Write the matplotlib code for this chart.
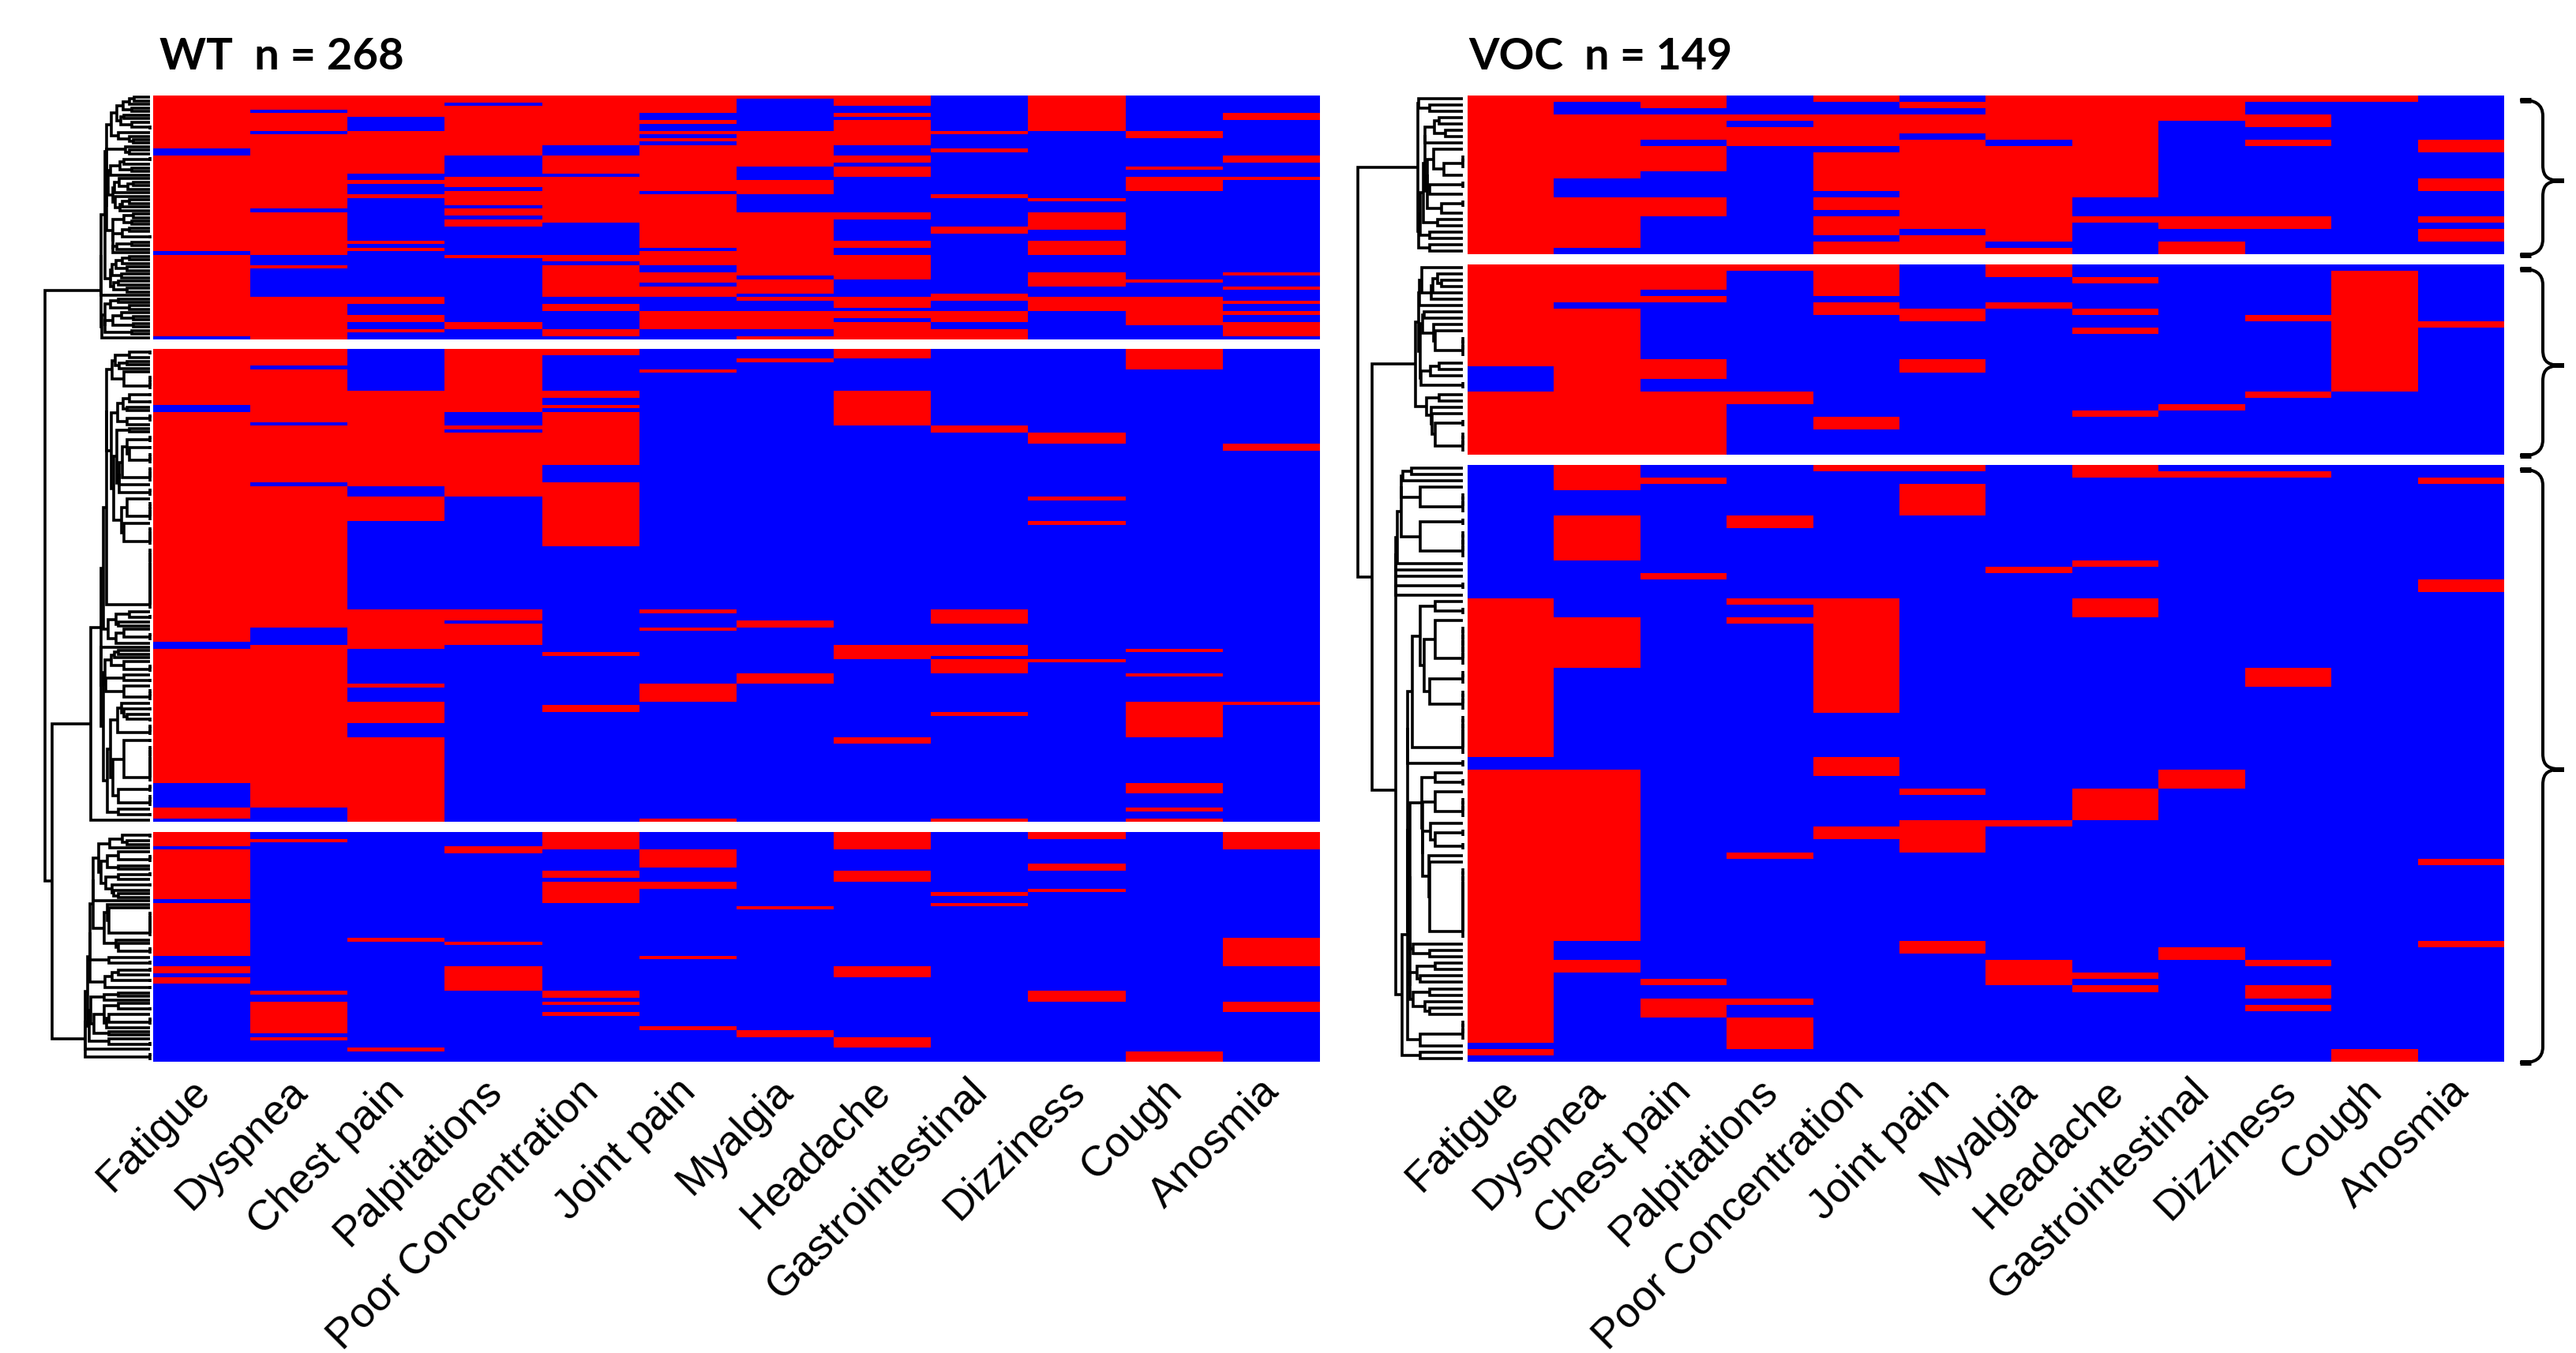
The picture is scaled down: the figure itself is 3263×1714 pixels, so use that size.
import numpy as np
import matplotlib
matplotlib.use("Agg")
import matplotlib.pyplot as plt
from matplotlib.colors import ListedColormap
from matplotlib.path import Path
from matplotlib.patches import PathPatch
from matplotlib.transforms import ScaledTranslation

SYMPTOMS = ["Fatigue", "Dyspnea", "Chest pain", "Palpitations", "Poor Concentration", "Joint pain",
            "Myalgia", "Headache", "Gastrointestinal", "Dizziness", "Cough", "Anosmia"]
WT_TITLE = "WT  n = 268"
VOC_TITLE = "VOC  n = 149"
WT_ROWS = [69, 134, 65]
VOC_ROWS = [25, 30, 94]

# Patient-row ranges [start, end) with the symptom present, per symptom, per cluster
WT_C1 = [
    [(0,15),(17,44),(45,68)],
    [(0,4),(5,10),(11,32),(33,45),(48,49),(57,69)],
    [(0,6),(10,22),(24,25),(28,29),(41,42),(43,44),(57,59),(62,64),(66,67)],
    [(0,2),(3,17),(23,26),(27,31),(32,34),(35,37),(45,46),(64,66)],
    [(0,14),(17,22),(23,36),(45,47),(48,57),(59,61),(66,68)],
    [(0,5),(7,8),(10,11),(12,13),(14,27),(28,43),(44,48),(50,53),(54,57),(61,66)],
    [(0,1),(10,20),(24,28),(33,51),(52,56),(57,58),(61,66),(68,69)],
    [(0,3),(5,6),(7,14),(17,19),(20,23),(33,35),(41,43),(45,52),(57,60),(61,63),(64,69)],
    [(10,11),(15,16),(28,29),(37,39),(56,58),(61,64),(66,69)],
    [(0,10),(29,30),(33,38),(41,45),(50,54),(57,61)],
    [(10,12),(20,21),(23,27),(52,53),(57,65)],
    [(5,7),(17,19),(23,24),(50,51),(54,55),(58,59),(61,62),(64,68)],
]
WT_C2 = [
    [(0,16),(18,83),(85,123),(130,133)],
    [(0,5),(6,21),(22,38),(39,79),(84,130)],
    [(12,39),(42,49),(74,85),(95,96),(100,106),(110,134)],
    [(0,18),(22,23),(24,42),(74,77),(78,84)],
    [(0,2),(12,14),(16,17),(18,33),(38,56),(86,87),(101,103)],
    [(6,7),(74,75),(79,80),(95,100),(133,134)],
    [(3,4),(77,79),(92,95)],
    [(0,3),(12,22),(84,88),(110,112)],
    [(22,24),(74,78),(84,87),(88,92),(103,104),(133,134)],
    [(24,27),(42,43),(49,50),(88,89)],
    [(0,6),(85,86),(92,93),(100,110),(123,126),(130,131),(133,134)],
    [(27,29),(100,101)],
]
WT_C3 = [
    [(0,4),(5,19),(20,35),(38,40),(41,43)],
    [(2,3),(45,46),(48,57),(58,59)],
    [(30,31),(61,62)],
    [(4,6),(31,32),(38,45)],
    [(0,5),(11,13),(14,20),(45,47),(48,49),(51,52)],
    [(5,10),(14,16),(35,36),(55,56)],
    [(21,22),(56,58)],
    [(0,5),(11,14),(38,41),(58,61)],
    [(17,18),(20,21)],
    [(0,2),(9,11),(16,17),(45,48)],
    [(62,65)],
    [(0,5),(30,38),(48,51)],
]
VOC_C1 = [
    [(0,25)],
    [(0,1),(3,13),(16,24)],
    [(0,2),(3,7),(8,12),(16,19)],
    [(3,4),(5,8)],
    [(0,1),(3,8),(9,15),(16,18),(19,22),(23,25)],
    [(1,2),(3,6),(7,21),(22,25)],
    [(0,7),(8,23),(24,25)],
    [(0,16),(19,20)],
    [(0,4),(19,21),(23,25)],
    [(0,1),(3,5),(7,8),(19,21)],
    [(0,1)],
    [(7,9),(13,15),(19,20),(21,23)],
]
VOC_C2 = [
    [(0,16),(20,30)],
    [(0,6),(7,30)],
    [(0,4),(5,6),(15,18),(20,30)],
    [(0,1),(20,22)],
    [(0,5),(6,8),(24,26)],
    [(7,9),(15,17)],
    [(0,2),(6,7)],
    [(2,3),(7,8),(10,11),(23,24)],
    [(22,23)],
    [(8,9),(20,21)],
    [(1,20)],
    [(9,10)],
]
VOC_C3 = [
    [(21,46),(48,91),(92,93)],
    [(0,4),(8,15),(24,32),(48,75),(78,80)],
    [(2,3),(17,18),(81,82),(84,87)],
    [(8,10),(21,22),(24,25),(61,62),(84,85),(87,92)],
    [(0,1),(21,39),(46,49),(57,59)],
    [(0,1),(3,8),(51,52),(56,61),(75,77)],
    [(16,17),(56,57),(78,82)],
    [(0,2),(15,16),(21,24),(51,56),(80,81),(82,83)],
    [(1,2),(48,51),(76,78)],
    [(1,2),(32,35),(78,79),(82,84),(85,86)],
    [(92,94)],
    [(2,3),(18,20),(62,63),(75,76)],
]
# Heights of the joins above the three clusters: (c1 with rest, c2 with c3)
WT_TOP = [2.10, 1.88]
VOC_TOP = [1.98, 1.59]

W, H = 3263, 1715
RED, BLUE = "#FF0000", "#0000FF"
CMAP = ListedColormap([BLUE, RED])
LW = 3.6 * 72 / 100
H_POWER = 0.65


def to_matrix(spans, nrows):
    m = np.zeros((nrows, len(spans)), dtype=int)
    for c, sp in enumerate(spans):
        for a, b in sp:
            m[a:b, c] = 1
    return m


def jaccard(m):
    inter = m @ m.T
    s = m.sum(1)
    union = s[:, None] + s[None, :] - inter
    with np.errstate(divide="ignore", invalid="ignore"):
        d = 1 - inter / union
    d[union == 0] = 0
    return d


def adjacent_tree(m, ypos):
    """Average-linkage merging of neighbouring rows; leaves stay in row order."""
    d = jaccard(m)
    nodes = [dict(mem=[i], y=float(ypos[i]), h=0.0) for i in range(len(m))]
    segs = []
    while len(nodes) > 1:
        ds = [d[np.ix_(nodes[i]["mem"], nodes[i + 1]["mem"])].mean() for i in range(len(nodes) - 1)]
        i = int(np.argmin(ds))
        a, b = nodes[i], nodes[i + 1]
        h = max(ds[i], a["h"], b["h"])
        segs.append(([a["h"], h, h, b["h"]], [a["y"], a["y"], b["y"], b["y"]]))
        nodes[i:i + 2] = [dict(mem=a["mem"] + b["mem"], y=(a["y"] + b["y"]) / 2, h=h)]
    return nodes[0], segs


def to_fig(x0, y0, x1, y1):
    return [x0 / W, 1 - y1 / H, (x1 - x0) / W, (y1 - y0) / H]


fig = plt.figure(figsize=(W / 100, H / 100), dpi=100, facecolor="white")
over = fig.add_axes([0, 0, 1, 1], zorder=5)
over.set_xlim(0, W)
over.set_ylim(H, 0)
over.axis("off")
over.patch.set_alpha(0)


def panel(clusters, rows, bands, xl, xr, leaf_x, scale, top, title, title_x, title_size):
    roots = []

    def draw(hs, ys):
        over.plot(leaf_x - np.array(hs) ** H_POWER * scale, ys, color="black", lw=LW,
                  solid_capstyle="butt", solid_joinstyle="miter")

    for k, (spans, nrow, (y0, y1)) in enumerate(zip(clusters, rows, bands)):
        m = to_matrix(spans, nrow)
        ax = fig.add_axes(to_fig(xl, y0, xr, y1))
        ax.imshow(m, cmap=CMAP, vmin=0, vmax=1, aspect="auto", interpolation="nearest")
        ax.set_yticks([])
        for s in ax.spines.values():
            s.set_visible(False)
        if k == len(clusters) - 1:
            ax.set_xticks(range(len(SYMPTOMS)))
            labels = ax.set_xticklabels(SYMPTOMS, rotation=45, ha="right", va="top", rotation_mode="anchor",
                                        fontsize=38.5, family="Liberation Sans", color="black")
            ax.tick_params(axis="x", length=0, pad=8)
            shift = ScaledTranslation(-0.15, 0, fig.dpi_scale_trans)
            for lab in labels:
                lab.set_transform(lab.get_transform() + shift)
        else:
            ax.set_xticks([])
        ypos = y0 + (np.arange(nrow) + 0.5) * (y1 - y0) / nrow
        node, segs = adjacent_tree(m, ypos)
        for hs, ys in segs:
            draw(hs, ys)
        roots.append(node)
    n1, n2, n3 = roots
    ymid = (n2["y"] + n3["y"]) / 2
    draw([n2["h"], top[1], top[1], n3["h"]], [n2["y"], n2["y"], n3["y"], n3["y"]])
    draw([n1["h"], top[0], top[0], top[1]], [n1["y"], n1["y"], ymid, ymid])
    fig.text(title_x / W, 1 - 72 / H, title, fontsize=title_size, fontweight="bold", family="Lato",
             va="center", ha="left", color="black")


panel([WT_C1, WT_C2, WT_C3], WT_ROWS, [(122, 431), (443, 1042), (1055, 1346)], 194, 1671, 190, 82, WT_TOP,
      WT_TITLE, 202, 40.5)
VOC_BANDS = [(122, 323), (336, 577), (590, 1346)]
panel([VOC_C1, VOC_C2, VOC_C3], VOC_ROWS, VOC_BANDS, 1858.5, 3171, 1853, 85, VOC_TOP, VOC_TITLE, 1860, 40)


def brace(y0, y1, x0=3192, xs=3221, xt=3248, r=20):
    mid = (y0 + y1) / 2 + 4
    v = [(x0, y0), (xs, y0 - 2), (xs, y0 + r), (xs, mid - r), (xs, mid - 3), (xs + 8, mid), (xt, mid),
         (xs + 8, mid), (xs, mid + 3), (xs, mid + r), (xs, y1 - r), (xs, y1 + 2), (x0, y1)]
    c = [Path.MOVETO, Path.CURVE3, Path.CURVE3, Path.LINETO, Path.CURVE4, Path.CURVE4, Path.CURVE4,
         Path.CURVE4, Path.CURVE4, Path.CURVE4, Path.LINETO, Path.CURVE3, Path.CURVE3]
    over.add_patch(PathPatch(Path(v, c), fill=False, ec="black", lw=4 * 72 / 100))
    # heavier hook ends and tip
    over.plot([x0, x0 + 14], [y0, y0], color="black", lw=7 * 72 / 100, solid_capstyle="butt")
    over.plot([x0, x0 + 14], [y1, y1], color="black", lw=7 * 72 / 100, solid_capstyle="butt")
    over.plot([xt - 14, xt], [mid, mid], color="black", lw=6 * 72 / 100, solid_capstyle="butt")


for y0, y1 in VOC_BANDS:
    brace(y0 + 6, y1 + 1)

fig.savefig("out.png", dpi=100, facecolor="white")
